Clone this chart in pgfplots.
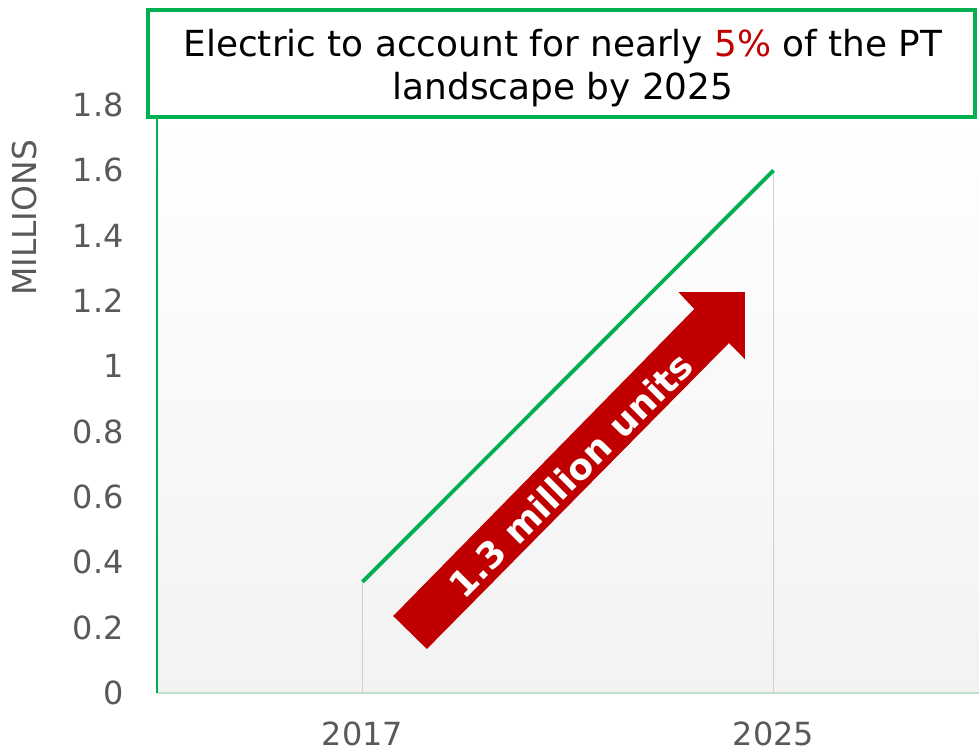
\documentclass[border=0pt]{standalone}
\usepackage{fontspec}
\setmainfont{DejaVu Sans}
\usepackage{pgfplots}
\pgfplotsset{compat=1.18}

\definecolor{pgreen}{HTML}{00B050}
\definecolor{pred}{HTML}{C00000}
\definecolor{tickgray}{HTML}{595959}
\definecolor{dropgray}{HTML}{D0D0D0}
\definecolor{baseline}{HTML}{C2DFCC}

\begin{document}
\begin{tikzpicture}
\useasboundingbox (0,0) rectangle (979bp,751bp);
\begin{axis}[
    at={(157bp,58bp)}, anchor=south west,
    scale only axis,
    width=822bp, height=588bp,
    xmin=-0.5, xmax=1.5,
    ymin=0, ymax=1.8,
    xtick={0,1}, xticklabels={2017,2025},
    ytick={0,0.2,0.4,0.6,0.8,1,1.2,1.4,1.6,1.8},
    yticklabels={0,0.2,0.4,0.6,0.8,1,1.2,1.4,1.6,1.8},
    major tick length=0pt,
    axis x line*=bottom, axis y line*=left,
    x axis line style={-, draw=baseline, line width=2bp},
    y axis line style={-, draw=pgreen, line width=1.5bp},
    axis background/.style={top color=white, bottom color=black!5},
    ticklabel style={font=\fontsize{32}{38}\selectfont, text=tickgray},
    yticklabel style={xshift=-30bp},
    xticklabel style={yshift=-25bp},
    ylabel={MILLIONS},
    ylabel style={at={(axis description cs:-0.1606,0.808)}, anchor=center,
        font=\fontsize{33}{38}\selectfont, text=tickgray},
    clip=false,
]
\addplot[ycomb, draw=dropgray, line width=1.8bp, mark=none]
    coordinates {(0,0.34) (1,1.6)};
\addplot[draw=pgreen, line width=3.8bp, mark=none]
    coordinates {(0,0.34) (1,1.6)};

% red arrow annotation
\fill[pred] (axis cs:0.0747,0.2357) -- (axis cs:0.8072,1.1754)
    -- (axis cs:0.7687,1.2274) -- (axis cs:0.9301,1.2274)
    -- (axis cs:0.9301,1.0223) -- (axis cs:0.8916,1.0713)
    -- (axis cs:0.1566,0.1347) -- cycle;
\node[rotate=45, text=white, inner sep=0pt, font=\bfseries\fontsize{36}{42}\selectfont]
    at (axis cs:0.506,0.667) {1.3 million units};
\end{axis}

% title box
\draw[pgreen, line width=4bp, fill=white] (148bp,634bp) rectangle (975bp,741bp);
\node[align=center, font=\fontsize{36}{43}\selectfont, text=black]
    at (563bp,683bp) {Electric to account for nearly \textcolor{pred}{5\%} of the PT\\landscape by 2025};
\end{tikzpicture}
\end{document}
